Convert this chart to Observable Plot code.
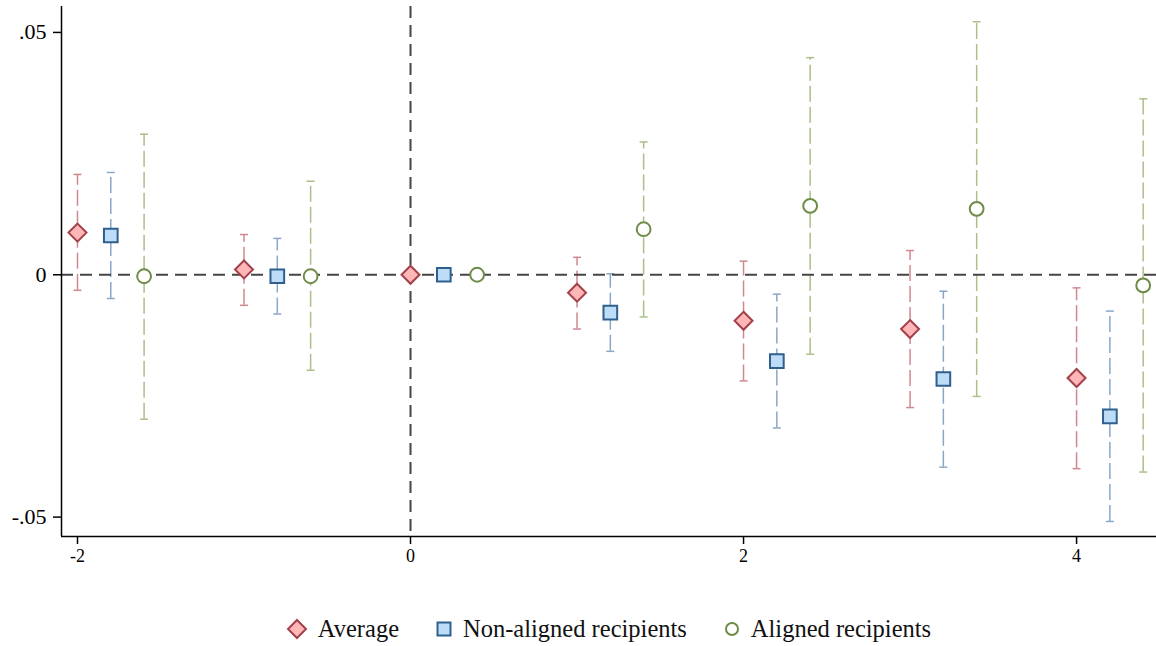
<!DOCTYPE html>
<html>
<head>
<meta charset="utf-8">
<script src="https://cdn.jsdelivr.net/npm/d3@7"></script>
<script src="https://cdn.jsdelivr.net/npm/@observablehq/plot@0.6"></script>
<style>
  html, body { margin: 0; padding: 0; background: #fff; }
  body { width: 1156px; height: 646px; overflow: hidden; font-family: "Liberation Serif", "Times New Roman", serif; }
  #legend { height: 34px; padding-top: 12px; padding-left: 61px; display: flex; justify-content: center; align-items: center; font-size: 24.5px; color: #111; }
  .item { display: flex; align-items: center; margin: 0 18px; }
  .item svg { margin-right: 10px; }
</style>
</head>
<body>
<div id="chart"></div>
<div id="legend"></div>
<script>
// ---- data ----
const periods = [-2, -1, 0, 1, 2, 3, 4];
const seriesNames = ["Average", "Non-aligned recipients", "Aligned recipients"];
const seriesDodge = [0, 0.2, 0.4];

const avgEst = [0.0087, 0.0011, 0, -0.0037, -0.0095, -0.0112, -0.0213];
const avgLo  = [-0.0032, -0.0063, 0, -0.0112, -0.0219, -0.0274, -0.0400];
const avgHi  = [0.0207, 0.0083, 0, 0.0036, 0.0028, 0.0050, -0.0027];

const nonEst = [0.0081, -0.0003, 0, -0.0078, -0.0178, -0.0215, -0.0292];
const nonLo  = [-0.0049, -0.0081, 0, -0.0158, -0.0316, -0.0397, -0.0509];
const nonHi  = [0.0211, 0.0075, 0, 0.0002, -0.0040, -0.0034, -0.0075];

const aliEst = [-0.0003, -0.0003, 0, 0.0094, 0.0142, 0.0136, -0.0022];
const aliLo  = [-0.0298, -0.0197, 0, -0.0087, -0.0164, -0.0251, -0.0407];
const aliHi  = [0.0290, 0.0193, 0, 0.0274, 0.0448, 0.0522, 0.0363];

const xTicks = [-2, 0, 2, 4];
const yTicks = [-0.05, 0, 0.05];
const xDomain = [-2.096, 4.48];
const yDomain = [-0.054, 0.05535];

// ---- styles ----
const markerFill   = ["#ffb6b6", "#bddcf8", "#ffffff"];
const markerStroke = ["#a3404a", "#2f5f8d", "#6e8b47"];
const ciStroke     = ["#d08890", "#8aa7c6", "#aabf8a"];
const markerSymbol = ["diamond2", "square2", "circle"];
const markerR      = [8.1, 8.7, 6.9];
const serif = '"Liberation Serif", "Times New Roman", serif';

const seriesData = [[avgEst, avgLo, avgHi], [nonEst, nonLo, nonHi], [aliEst, aliLo, aliHi]];
const rows = [];
seriesData.forEach(([est, lo, hi], s) => {
  periods.forEach((p, i) => {
    rows.push({series: seriesNames[s], s, x: p + seriesDodge[s], est: est[i], lo: lo[i], hi: hi[i]});
  });
});
const ciRows = rows.filter(d => d.lo !== d.hi);

const capSymbol = {
  draw(context, size) {
    const r = Math.sqrt(size / Math.PI);
    context.moveTo(-r, 0);
    context.lineTo(r, 0);
  }
};

const yFmt = d => d === 0 ? "0" : d3.format(".2f")(d).replace("0.", ".").replace("\u2212", "-");
const xFmt = d => String(d).replace("\u2212", "-");

const marks = [
  Plot.ruleX(ciRows, {x: "x", y1: "lo", y2: "hi", stroke: d => ciStroke[d.s], strokeWidth: 1.5, strokeDasharray: "16,5"}),
  Plot.dot(ciRows, {x: "x", y: "lo", symbol: capSymbol, r: 4, fill: "none", stroke: d => ciStroke[d.s], strokeWidth: 1.5}),
  Plot.dot(ciRows, {x: "x", y: "hi", symbol: capSymbol, r: 4, fill: "none", stroke: d => ciStroke[d.s], strokeWidth: 1.5}),
  Plot.ruleY([0], {stroke: "#454545", strokeWidth: 2, strokeDasharray: "12,7"}),
  Plot.ruleX([0], {stroke: "#454545", strokeWidth: 2, strokeDasharray: "12,7"}),
  ...seriesNames.map((name, s) =>
    Plot.dot(rows.filter(d => d.s === s), {x: "x", y: "est", symbol: markerSymbol[s], r: markerR[s], fill: markerFill[s], stroke: markerStroke[s], strokeWidth: 2})
  ),
  Plot.ruleX([xDomain[0]], {stroke: "#000", strokeWidth: 1.5}),
  Plot.ruleY([yDomain[0]], {stroke: "#000", strokeWidth: 1.5}),
  Plot.axisY({ticks: yTicks, tickFormat: yFmt, tickSize: 8, tickPadding: 7, fontSize: 22, fontFamily: serif, label: null, stroke: "#000", strokeWidth: 1.5}),
  Plot.axisX({ticks: xTicks, tickFormat: xFmt, tickSize: 8, tickPadding: 5, fontSize: 18, fontFamily: serif, label: null, stroke: "#000", strokeWidth: 1.5})
];

const chart = Plot.plot({
  width: 1156,
  height: 600,
  marginTop: 6,
  marginLeft: 61,
  marginRight: 0,
  marginBottom: 64,
  style: {fontFamily: serif, color: "#000", background: "#fff", overflow: "visible"},
  x: {domain: xDomain},
  y: {domain: yDomain},
  marks
});
document.getElementById("chart").appendChild(chart);

// ---- legend ----
const legend = document.getElementById("legend");
const swatches = [
  `<svg width="22" height="22" viewBox="-11 -11 22 22"><polygon points="0,-9 9,0 0,9 -9,0" fill="${markerFill[0]}" stroke="${markerStroke[0]}" stroke-width="2"/></svg>`,
  `<svg width="18" height="18" viewBox="-9 -9 18 18"><rect x="-6.5" y="-6.5" width="13" height="13" fill="${markerFill[1]}" stroke="${markerStroke[1]}" stroke-width="2"/></svg>`,
  `<svg width="18" height="18" viewBox="-9 -9 18 18"><circle r="6" fill="${markerFill[2]}" stroke="${markerStroke[2]}" stroke-width="2"/></svg>`
];
seriesNames.forEach((name, s) => {
  const item = document.createElement("div");
  item.className = "item";
  item.innerHTML = swatches[s] + `<span>${name}</span>`;
  legend.appendChild(item);
});
</script>
</body>
</html>
